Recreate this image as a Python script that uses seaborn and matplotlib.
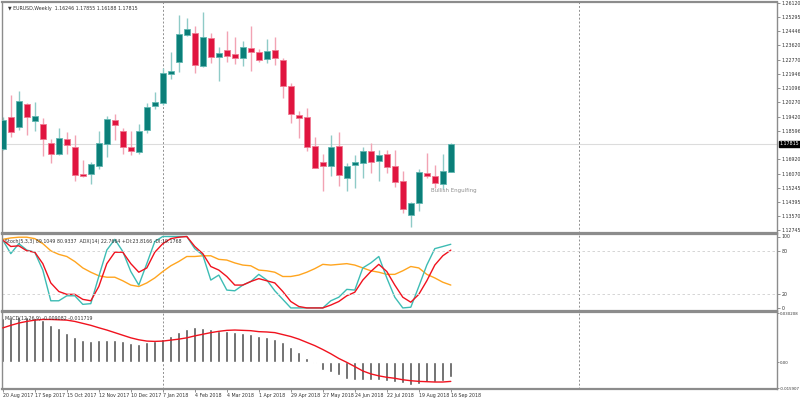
import pandas as pd
import matplotlib
matplotlib.use("Agg")
import matplotlib.pyplot as plt
import seaborn as sns
from matplotlib.transforms import blended_transform_factory

sns.set_theme(style="white")
plt.rcParams["font.family"] = ["DejaVu Sans"]

# -----------------------------------------------------------------------------
# Donnees : EURUSD hebdomadaire
# -----------------------------------------------------------------------------
dates = pd.date_range("2017-08-20", periods=57, freq="7D")

opens = [1.1752, 1.1941, 1.1882, 1.2017, 1.1917, 1.1899, 1.1787, 1.1723, 1.1811, 1.1764,
         1.1605, 1.1605, 1.1652, 1.1782, 1.1923, 1.1858, 1.1764, 1.1734, 1.1864, 1.2005,
         1.2023, 1.2194, 1.2265, 1.2424, 1.2435, 1.2241, 1.2406, 1.2294, 1.2335, 1.2312,
         1.2288, 1.2347, 1.2323, 1.2282, 1.2335, 1.2276, 1.2123, 1.1952, 1.1941, 1.1770,
         1.1676, 1.1652, 1.1770, 1.1581, 1.1658, 1.1670, 1.1740, 1.1681, 1.1723, 1.1652,
         1.1564, 1.1363, 1.1434, 1.1611, 1.1593, 1.1546, 1.1617]
highs = [1.1941, 1.2070, 1.2094, 1.2023, 1.2029, 1.1935, 1.1811, 1.1876, 1.1852, 1.1835,
         1.1687, 1.1676, 1.1858, 1.1946, 1.1958, 1.1876, 1.1858, 1.1899, 1.2023, 1.2088,
         1.2229, 1.2323, 1.2541, 1.2524, 1.2477, 1.2559, 1.2435, 1.2353, 1.2447, 1.2412,
         1.2388, 1.2477, 1.2341, 1.2400, 1.2412, 1.2288, 1.2141, 1.1976, 1.1994, 1.1823,
         1.1723, 1.1835, 1.1852, 1.1670, 1.1717, 1.1764, 1.1787, 1.1746, 1.1746, 1.1746,
         1.1623, 1.1440, 1.1634, 1.1728, 1.1658, 1.1723, 1.1786]
lows = [1.1746, 1.1823, 1.1864, 1.1835, 1.1858, 1.1711, 1.1670, 1.1717, 1.1723, 1.1564,
        1.1587, 1.1546, 1.1634, 1.1705, 1.1805, 1.1723, 1.1717, 1.1723, 1.1846, 1.1988,
        1.2011, 1.2164, 1.2206, 1.2420, 1.2200, 1.2235, 1.2259, 1.2153, 1.2265, 1.2253,
        1.2241, 1.2212, 1.2265, 1.2259, 1.2247, 1.2052, 1.1905, 1.1817, 1.1740, 1.1640,
        1.1505, 1.1593, 1.1534, 1.1505, 1.1522, 1.1581, 1.1611, 1.1564, 1.1611, 1.1528,
        1.1375, 1.1293, 1.1387, 1.1581, 1.1522, 1.1516, 1.1619]
closes = [1.1923, 1.1852, 1.2035, 1.1941, 1.1946, 1.1811, 1.1723, 1.1817, 1.1776, 1.1599,
          1.1593, 1.1664, 1.1787, 1.1929, 1.1893, 1.1764, 1.1740, 1.1858, 1.1999, 1.2029,
          1.2200, 1.2212, 1.2429, 1.2459, 1.2247, 1.2412, 1.2294, 1.2317, 1.2300, 1.2288,
          1.2353, 1.2323, 1.2276, 1.2329, 1.2288, 1.2123, 1.1958, 1.1935, 1.1764, 1.1640,
          1.1652, 1.1764, 1.1599, 1.1652, 1.1676, 1.1740, 1.1676, 1.1717, 1.1646, 1.1558,
          1.1399, 1.1434, 1.1617, 1.1593, 1.1552, 1.1623, 1.17815]

stoch_k = [95, 76, 90, 81, 78, 53, 10, 10, 17, 17, 5, 6, 44, 81, 96, 79, 51, 32, 62, 93,
           100, 100, 100, 100, 83, 74, 39, 46, 25, 24, 32, 37, 47, 39, 24, 12, 0, 0, 0, 0,
           0, 10, 15, 26, 25, 56, 63, 72, 42, 15, 0, 1, 30, 60, 83, 86, 89.1]
stoch_d = [95, 86, 87, 80, 78, 62, 35, 23, 19, 19, 12, 10, 30, 62, 78, 78, 62, 50, 56, 78,
           90, 97, 99, 100, 86, 76, 58, 53, 44, 32, 32, 37, 41, 38, 35, 23, 9, 2, 0, 0,
           0, 4, 9, 17, 22, 39, 51, 61, 51, 32, 15, 8, 19, 38, 60, 73, 80.9]
adx = [96, 98, 99, 99, 97, 90, 80, 75, 72, 65, 56, 50, 45, 43, 43, 38, 32, 30, 35, 42,
       51, 59, 65, 72, 72, 73, 73, 68, 67, 63, 60, 59, 53, 52, 50, 44, 44, 46, 50, 55,
       61, 60, 61, 62, 60, 56, 52, 50, 47, 47, 52, 58, 56, 47, 42, 36, 32]

macd_hist = [0.0270, 0.0270, 0.0280, 0.0280, 0.0270, 0.0260, 0.0230, 0.0210, 0.0180, 0.0159,
             0.0139, 0.0133, 0.0135, 0.0139, 0.0135, 0.0129, 0.0119, 0.0115, 0.0123, 0.0129,
             0.0143, 0.0163, 0.0189, 0.0205, 0.0219, 0.0209, 0.0205, 0.0195, 0.0195, 0.0189,
             0.0183, 0.0175, 0.0163, 0.0159, 0.0145, 0.0125, 0.0093, 0.0062, 0.0024, -0.0005,
             -0.0048, -0.0059, -0.0079, -0.0103, -0.0107, -0.0109, -0.0109, -0.0109, -0.0113, -0.0119,
             -0.0127, -0.0139, -0.0133, -0.0119, -0.0119, -0.0113, -0.009082]
macd_signal = [0.0212, 0.0228, 0.0242, 0.0252, 0.0260, 0.0264, 0.0264, 0.0262, 0.0260, 0.0252,
               0.0240, 0.0228, 0.0213, 0.0199, 0.0183, 0.0167, 0.0151, 0.0139, 0.0131, 0.0129,
               0.0131, 0.0137, 0.0143, 0.0151, 0.0163, 0.0173, 0.0183, 0.0191, 0.0197, 0.0199,
               0.0197, 0.0195, 0.0189, 0.0187, 0.0183, 0.0171, 0.0159, 0.0143, 0.0123, 0.0103,
               0.0079, 0.0053, 0.0024, 0.0000, -0.0026, -0.0053, -0.0071, -0.0083, -0.0092, -0.0098,
               -0.0107, -0.0113, -0.0117, -0.0119, -0.0121, -0.0121, -0.011719]

price_ticks = [1.26120, 1.25295, 1.24446, 1.23620, 1.22770, 1.21946, 1.21096, 1.20270,
               1.19420, 1.18596, 1.16920, 1.16070, 1.15245, 1.14395, 1.13570, 1.12745]
last_price = 1.17815
stoch_ticks = [0, 20, 80, 100]
macd_ticks = [0.030208, 0.0, -0.015907]
macd_tick_labels = ["0.030208", "0.00", "-0.015907"]

title_txt = "EURUSD,Weekly  1.16246 1.17855 1.16188 1.17815"
stoch_txt = "Stoch(5,3,3) 89.1049 80.9337  ADX(14) 22.7664 +DI:23.8166 -DI:19.1768"
macd_txt = "MACD(12,26,9) -0.009082 -0.011719"

df = pd.DataFrame({"date": dates, "open": opens, "high": highs, "low": lows,
                   "close": closes, "k": stoch_k, "d": stoch_d, "adx": adx,
                   "hist": macd_hist, "signal": macd_signal})
df["idx"] = range(len(df))
df["bull"] = df["close"] >= df["open"]

BULL, BULL_EDGE, BULL_WICK = "#0b7f79", "#62b8b2", "#8fcbc7"
BEAR, BEAR_EDGE, BEAR_WICK = "#e0153f", "#f07a92", "#f2a3b3"
FS = 3.4
TXT = "#333333"

fig = plt.figure(figsize=(8, 4), dpi=100)
ax1 = fig.add_axes([0.0025, 0.4175, 0.969, 0.5775])
ax2 = fig.add_axes([0.0025, 0.2225, 0.969, 0.1925], sharex=ax1)
ax3 = fig.add_axes([0.0025, 0.0275, 0.969, 0.1925], sharex=ax1)

XMIN, XMAX = -0.1, 96.8

# -----------------------------------------------------------------------------
# 1. Bougies
# -----------------------------------------------------------------------------
for bull, sub in df.groupby("bull"):
    ax1.vlines(sub["idx"], sub["low"], sub["high"],
               color=BULL_WICK if bull else BEAR_WICK, lw=1.0, zorder=2)
    body_lo = sub[["open", "close"]].min(axis=1)
    body_h = (sub["close"] - sub["open"]).abs().clip(lower=0.0003)
    ax1.bar(sub["idx"], body_h, bottom=body_lo, width=0.72,
            color=BULL if bull else BEAR, edgecolor=BULL_EDGE if bull else BEAR_EDGE,
            linewidth=0.6, zorder=3)

ax1.axhline(last_price, color="#dcdcdc", lw=0.8, zorder=1)
ax1.set_ylim(1.1257, 1.2618)
ax1.text(0.008, 0.984, "\u25bc " + title_txt, transform=ax1.transAxes,
         fontsize=FS, color=TXT, va="top", ha="left")
ax1.text(53.5, 1.1505, "Bullish Engulfing", fontsize=FS + 0.6, color="#909090",
         va="center", ha="left")
ax1.set_yticks(price_ticks)
ax1.set_yticklabels([f"{p:.5f}" for p in price_ticks])
trans = blended_transform_factory(ax1.transAxes, ax1.transData)
ax1.text(1.003, last_price, f"{last_price:.5f}", transform=trans, fontsize=FS,
         color="white", va="center", ha="left",
         bbox=dict(boxstyle="square,pad=0.2", fc="black", ec="black"))

# -----------------------------------------------------------------------------
# 2. Stochastique + ADX
# -----------------------------------------------------------------------------
sns.lineplot(data=df, x="idx", y="adx", ax=ax2, color="#ffa51f", lw=1.0)
sns.lineplot(data=df, x="idx", y="k", ax=ax2, color="#3dbcb4", lw=1.0)
sns.lineplot(data=df, x="idx", y="d", ax=ax2, color="#f0121e", lw=1.0)
for lvl in (20, 80):
    ax2.axhline(lvl, color="#cfcfcf", lw=0.6, ls=(0, (3, 3)))
ax2.set_ylim(-4.3, 103.5)
ax2.set_yticks(stoch_ticks)
ax2.set_yticklabels([str(t) for t in stoch_ticks])
ax2.text(0.004, 0.94, stoch_txt, transform=ax2.transAxes, fontsize=FS,
         color=TXT, va="top", ha="left")

# -----------------------------------------------------------------------------
# 3. MACD
# -----------------------------------------------------------------------------
ax3.bar(df["idx"], df["hist"], width=0.34, color="#555555", zorder=2)
sns.lineplot(data=df, x="idx", y="signal", ax=ax3, color="#f0121e", lw=1.0, zorder=3)
ax3.set_ylim(-0.0164, 0.0310)
ax3.set_yticks(macd_ticks)
ax3.set_yticklabels(macd_tick_labels)
ax3.text(0.004, 0.95, macd_txt, transform=ax3.transAxes, fontsize=FS,
         color=TXT, va="top", ha="left")

tick_idx = list(range(0, len(df), 4))
ax3.set_xticks(tick_idx)
ax3.set_xticklabels([f"{d.day} {d:%b %Y}" for d in df["date"].iloc[tick_idx]],
                    ha="left")
ax3.set_xlim(XMIN, XMAX)

# -----------------------------------------------------------------------------
# Mise en forme commune
# -----------------------------------------------------------------------------
for ax in (ax1, ax2, ax3):
    ax.set_xlabel("")
    ax.set_ylabel("")
    ax.yaxis.tick_right()
    ax.tick_params(axis="y", length=2, width=0.6, color="#808080", pad=1.2,
                   labelsize=FS, labelcolor=TXT, right=True)
    ax.axvline(20, color="#909090", lw=0.7, ls=(0, (2, 2)), zorder=1)
    ax.axvline(72, color="#909090", lw=0.7, ls=(0, (2, 2)), zorder=1)
    for side in ("left", "right", "top", "bottom"):
        ax.spines[side].set_color("#8c8c8c")
        ax.spines[side].set_linewidth(1.0)
    ax.spines["bottom"].set_linewidth(1.6)
    ax.spines["top"].set_linewidth(1.6)

# libelles MACD un peu plus petits pour tenir dans la marge droite
ax3.tick_params(axis="y", length=1.5, pad=0.4, labelsize=2.8)

for ax in (ax1, ax2):
    ax.tick_params(axis="x", bottom=False, labelbottom=False)

ax3.tick_params(axis="x", length=2, width=0.6, color="#808080", pad=0.6,
                labelsize=FS, labelcolor=TXT, bottom=True)

fig.savefig("out.png", dpi=100, facecolor="white")
plt.close(fig)
